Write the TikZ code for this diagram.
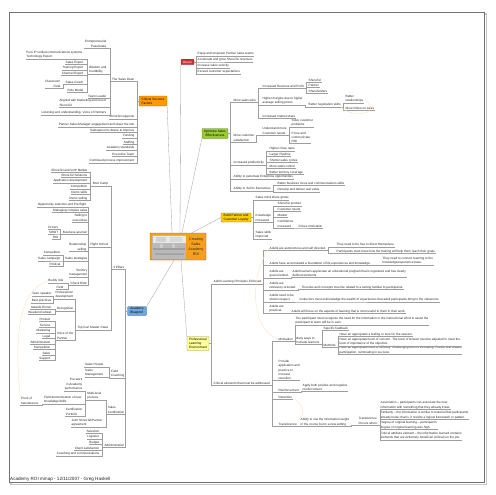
\documentclass[tikz,border=0pt]{standalone}
\usepackage{fontspec}
\setmainfont{Liberation Sans}
\definecolor{csfo}{HTML}{FF9900}
\definecolor{misr}{HTML}{CC3333}
\definecolor{optg}{HTML}{99CC33}
\definecolor{bldy}{HTML}{FFCC00}
\definecolor{abb}{HTML}{6FA8DC}
\definecolor{ply}{HTML}{FFFF99}
\definecolor{rooto}{HTML}{F5A01A}
\tikzset{
 tx/.style={font=\fontsize{3.1}{4.4}\selectfont, inner xsep=0.5pt, inner ysep=0.4pt, text=black!85},
 L/.style={tx, anchor=south east, align=right},
 R/.style={tx, anchor=south west, align=left},
 cn/.style={draw=black!38, line width=0.3pt},
 rel/.style={draw=orange!22, line width=0.45pt},
 br/.style={font=\fontsize{3.2}{3.9}\selectfont, rounded corners=0.8pt, inner sep=0.8pt, align=center, draw=black!45, line width=0.3pt}
}
\begin{document}
\begin{tikzpicture}[x=1pt,y=-1pt]
\useasboundingbox (0,0) rectangle (495,495);
\fill[white] (0,0) rectangle (495,495);
\draw[black!22, line width=1.2pt] (11,14) rectangle (486.5,484.5);
\draw[black!55, line width=0.6pt, fill=white] (9,12) rectangle (484.5,482.5);

% ---------- central node
\node[draw=orange!80!black, fill=rooto, rounded corners=1pt, minimum width=56, minimum height=27, inner sep=0] (root) at (178,246.5) {};
\fill[gray!55] (152,235) rectangle (186,258.5);
\fill[gray!18] (152.5,235.5) rectangle (185.5,243);
\fill[gray!35] (156,237) rectangle (166,242);
\fill[gray!30] (170,237) rectangle (182,242);
\fill[gray!75] (153,248) rectangle (185,250);
\fill[gray!70] (155,253) rectangle (184,255);
\fill[gray!40] (160,244) rectangle (163,248);
\fill[gray!40] (172,244) rectangle (175,248);
\node[font=\fontsize{3.6}{4.9}\selectfont, align=center, inner sep=0, text=black!85] (roottx) at (196,247) {Creating\\Sales\\Academy\\ROI};

% ---------- main branches
\node[br, fill=misr, text=white, draw=misr!70!black, minimum width=13, minimum height=5.5, font=\fontsize{2.8}{3}\selectfont] (ms) at (187.5,62) {Mission};
\node[br, fill=csfo, draw=csfo!70!black, minimum width=28, minimum height=10, align=left] (cs) at (153,101) {Critical Success\\Factors};
\node[br, fill=optg, draw=optg!60!black, minimum width=26, minimum height=10] (os) at (215,133.5) {Optimize Sales\\Effectiveness};
\node[br, fill=bldy, draw=bldy!60!black, minimum width=30, minimum height=9] (bp) at (236,217.5) {Build Partner and\\Customer Loyalty};
\node[br, fill=abb, draw=abb!60!black, minimum width=19, minimum height=9, align=left] (ab) at (137,311) {Academy\\Blueprint};
\node[br, fill=ply, draw=yellow!55!black, minimum width=22, minimum height=14, align=left] (pl) at (198,343.5) {Professional\\Learning\\Environment};

\draw[cn] ([xshift=2]root.north) -- (ms.south west);
\draw[cn] ([xshift=-6]root.north) -- (cs.south east);
\draw[cn] ([xshift=4]root.north) -- (os.south west);
\draw[cn] ([xshift=14]root.north) -- (bp.west);
\draw[cn] ([xshift=-4]root.south) -- (ab.north east);
\draw[cn] ([xshift=3]root.south) -- (pl.north west);

% ---------- Critical Success Factors
\node[L] (dean) at (135,81) {The Sales Dean};
\node[L] (stsup) at (135,119) {ShoreTel supports};
\node[L] (psm) at (135,127) {Partner Sales Manager engagement and share the risk};
\node[L] (desire) at (135,132.5) {Salesperson's desire to improve};
\node[L] (fund) at (135,138) {Funding};
\node[L] (staff) at (135,144.5) {Staffing};
\node[L] (astd) at (135,150) {Academy standards};
\node[L] (exec) at (135,156) {Executive Team};
\node[L] (cpi) at (135,163) {Continued process improvement};
\node[L] (entre) at (107,48) {Entrepreneurial\\Passionate};
\node[L, align=left] (wis) at (107,74) {Wisdom and\\Credibility};
\node[L] (tl) at (107,98) {Team Leader};
\node[L, align=left] (align) at (107,107) {Aligned with Marketing and rest of\\ShoreTel};
\node[L] (listen) at (107,115) {Listening and understanding. Voice of Partners};
\node[L, align=left] (pure) at (83,59) {Pure IP unified communications systems\\Technology Expert};
\node[L] (sexp) at (84,64.5) {Sales Expert};
\node[L] (texp) at (84,70) {Training Expert};
\node[L] (cexp) at (84,75.5) {Channel Expert};
\node[L] (coach) at (84,84.5) {Sales Coach};
\node[L] (role) at (84,92) {Role Model};
\node[L] (cf) at (61,88) {Classroom\\Field};

% ---------- Academy Blueprint
\node[L] (pil) at (125,269) {3 Pillars};
\node[L, align=left] (fc) at (125,378) {Field\\Coaching};
\node[L, align=left] (scert) at (125,414) {Sales\\Certification};
\node[L] (adm) at (125,447) {Administration};
\node[L] (boot) at (109,186) {Boot Camp};
\node[L] (flight) at (109,247) {Flight School};
\node[L] (topgun) at (109,330) {Top Gun Master Class};
\node[L] (b1) at (88,172) {ShoreTel and VoIP Market};
\node[L] (b2) at (88,177.5) {ShoreTel Solutions};
\node[L] (b3) at (88,183) {Application development};
\node[L] (b4) at (88,189) {Competition};
\node[L] (b5) at (88,194.5) {Demo skills};
\node[L] (b6) at (88,200.5) {Demo selling};
\node[L] (f1) at (87,207) {Opportunity selection and Pre-flight};
\node[L] (f2) at (88,212.5) {Managing complex sales};
\node[L] (f3) at (88,222) {Selling to\\executives};
\node[L] (f4) at (88,234) {Business acumen};
\node[L] (f5) at (87,251.5) {Relationship\\selling};
\node[L] (f6) at (88,261) {Sales strategies};
\node[L] (f7) at (88,277) {Territory\\management};
\node[L] (f8) at (88,285.5) {`Check Ride'};
\node[L] (ba1) at (59,229) {Drivers};
\node[L] (ba2) at (59,234) {SWOT};
\node[L] (ba3) at (59,239.5) {ROI};
\node[L] (ss1) at (61,255) {Competition};
\node[L] (ss2) at (61,261) {Sales campaign};
\node[L] (ss3) at (61,266) {Political};
\node[L] (cr1) at (64,283) {Buddy ride};
\node[L] (cr2) at (64,289) {Field};
\node[L, align=left] (pd) at (74,299) {Professional\\development};
\node[L] (rec) at (74,311) {Recognition};
\node[L, align=left] (vop) at (74,340) {Voice of the\\Partner};
\node[L] (g1) at (52,296) {Guru speaker};
\node[L] (g2) at (52,303) {Best practices};
\node[L] (r1) at (52,309) {Awards Dinner};
\node[L] (r2) at (52,314.5) {Weekend retreat};
\node[L] (v1) at (51,321) {Product};
\node[L] (v2) at (51,327) {Service};
\node[L] (v3) at (51,333) {Marketing};
\node[L] (v4) at (51,338.5) {Legal};
\node[L] (v5) at (51,344) {Administration};
\node[L] (v6) at (51,349.5) {Competition};
\node[L] (v7) at (51,355) {Sales};
\node[L] (v8) at (51,360.5) {Support};
\node[L] (sp) at (104,367) {Sales People};
\node[L, align=left] (sm) at (104,377) {Sales\\Management};
\node[L, align=left] (ml) at (102,400) {Multi-level\\process};
\node[L, align=left] (jsp) at (103,427) {Joint ShoreTel/Partner\\agreement};
\node[L] (pw) at (83,391) {Pre-work\\in Academy\\performance};
\node[L, align=left] (fd) at (82,404) {Field demonstration of new\\knowledge/skills};
\node[L, align=left] (cp) at (83,416) {Certification\\Portfolio};
\node[L, align=left] (pot) at (39,405) {Proof of\\transference};
\node[L] (ad1x) at (100,433) {Selection};
\node[L] (ad2x) at (100,439) {Logistics};
\node[L] (ad3x) at (100,444.5) {Budget};
\node[L] (ad4x) at (100,450) {Client satisfaction};
\node[L] (ad5x) at (100,456) {Coaching and communications};

% ---------- Mission
\node[R] (m1) at (197,56) {Equip and empower Partner sales teams};
\node[R] (m2) at (197,62) {Accelerate and grow ShoreTel revenues};
\node[R] (m3) at (197,68) {Increase sales velocity};
\node[R] (m4) at (197,74) {Exceed customer expectations};

% ---------- Optimize Sales Effectiveness
\node[R] (msw) at (233,102) {More sales wins};
\node[R] (mcs) at (233,142) {More customer\\satisfaction};
\node[R] (ip) at (233,165) {Increased productivity};
\node[R] (ape) at (233,179) {Ability to penetrate Enterprise opportunities};
\node[R] (ase) at (233,191) {Ability to Sell to Executives};
\node[R] (irp) at (262,88) {Increased Revenue and Profit};
\node[R] (hm) at (262,105) {Higher margins due to higher\\average selling prices};
\node[R] (ims) at (262,118) {Increased market share};
\node[R] (st) at (308,82) {ShoreTel};
\node[R] (pa) at (308,87.5) {Partner};
\node[R] (sh) at (308,93) {Shareholders};
\node[R] (bns) at (308,107) {Better negotiation skills};
\node[R] (brl) at (345,103) {Better\\relationships};
\node[R] (mfs) at (345,110) {More follow-on sales};
\node[R] (ucn) at (262,135) {Understand more\\Customer needs};
\node[R] (scp) at (291,127) {Solve customer\\problems};
\node[R] (pcr) at (291,143.5) {Prove and\\communicate\\ROI};
\node[R] (hcr) at (269,151) {Higher close rates};
\node[R] (lpp) at (269,156.5) {Larger Pipeline};
\node[R] (ssc) at (269,162.5) {Shorter sales cycles};
\node[R] (msc) at (269,168.5) {More sales control};
\node[R] (btc) at (269,174.5) {Better territory coverage};
\node[R] (bbf) at (277,185.5) {Better business focus and communications skills};
\node[R] (ddv) at (277,192) {Develop and deliver real value};

% ---------- Build Partner and Customer Loyalty
\node[R] (smg) at (255,200) {Sales mind share grows};
\node[R] (ki) at (255,222) {Knowledge\\increased};
\node[R] (ssi) at (255,239) {Sales skills\\improved};
\node[R] (kp) at (277,206) {ShoreTel product};
\node[R] (kc) at (277,211.5) {Customer needs};
\node[R] (km) at (277,217) {Market};
\node[R] (kci) at (277,228) {Confidence\\increased};
\node[R] (dm) at (298,228) {Drives motivation};

% ---------- Professional Learning Environment
\node[R] (alp) at (213,284) {Adult Learning Principles Followed};
\node[R] (cea) at (213,385) {Critical elements that must be addressed};
\node[R] (ad1) at (269,250) {Adults are autonomous and self directed.};
\node[R] (ad2) at (269,265.5) {Adults have accumulated a foundation of life experiences and knowledge.};
\node[R] (ad3) at (269,278) {Adults are\\goal-oriented.};
\node[R] (ad4) at (269,290) {Adults are\\relevancy-oriented.};
\node[R] (ad5) at (269,302) {Adults need to be\\shown respect.};
\node[R] (ad6) at (269,313) {Adults are\\practical.};
\node[R] (ad1a) at (336,247) {They need to be free to direct themselves.};
\node[R] (ad1b) at (336,253.5) {Participants must know how the training will help them reach their goals.};
\node[R] (ad2a) at (382,265) {They need to connect learning to the\\knowledge/experience base.};
\node[R] (ad3a) at (292,277.5) {Adult learners appreciate an educational program that is organized and has clearly\\defined elements.};
\node[R] (ad4a) at (301,289.5) {Theories and concepts must be related to a setting familiar to participants.};
\node[R] (ad5a) at (299,302) {Instructors must acknowledge the wealth of experiences that adult participants bring to the classroom.};
\node[R] (ad6a) at (291,313.5) {Adults will focus on the aspects of learning that is most useful to them in their work.};
\node[R] (mot) at (278,341) {Motivation};
\node[R] (pap) at (278,380.5) {Provide\\application and\\practice to\\increase\\retention};
\node[R] (rf) at (278,392.5) {Reinforcement};
\node[R] (ret) at (278,399.5) {Retention};
\node[R] (tr) at (278,426.5) {Transference};
\node[R] (mt1) at (295,325) {The participant must recognize the need for the information or the instructional effort to assist the\\participant to learn will be in vain.};
\node[R] (mwm) at (295,344.5) {Many ways to\\motivate learners};
\node[R] (sf) at (323,330.5) {Specific feedback};
\node[R] (meth) at (323,347.5) {Methods};
\node[R] (h1) at (339,336.5) {Have an appropriate a feeling or tone for the session.};
\node[R] (h2) at (339,346) {Have an appropriate level of concern. The level of tension must be adjusted to meet the\\level of importance of the objective.};
\node[R] (h3) at (339,354.5) {Have an appropriate level of difficulty. Challenging but not frustrating. Predict and reward\\participation, culminating in success.};
\node[R] (rf1) at (302,391.5) {Apply both positive and negative\\reinforcement};
\node[R] (tr1) at (300,426.5) {Ability to use the information taught\\in the course but in a new setting};
\node[R] (toc) at (358,425) {Transference\\Occurs when:};
\node[R] (t1) at (380,409.5) {Association -- participants can associate the new\\information with something that they already know.};
\node[R] (t2) at (380,419.5) {Similarity -- the information is similar to material that participants\\already know; that is, it revisits a logical framework or pattern.};
\node[R] (t3) at (380,429.5) {Degree of original learning -- participant's\\degree of original learning was high.};
\node[R] (t4) at (380,440) {Critical attribute element -- the information learned contains\\elements that are extremely beneficial (critical) on the job.};

% ---------- connectors
\foreach \p/\c in {cs/dean,cs/stsup,cs/psm,cs/desire,cs/fund,cs/staff,cs/astd,cs/exec,cs/cpi,
  ab/pil,ab/fc,ab/scert,ab/adm}
  \draw[cn] (\p.west) -- ++(-2,0) |- (\c.south west);
\foreach \p/\c in {dean/entre,dean/wis,dean/tl,dean/align,dean/listen,
  wis/pure,wis/sexp,wis/texp,wis/cexp,wis/coach,wis/role,coach/cf,
  pil/boot,pil/flight,pil/topgun,
  boot/b1,boot/b2,boot/b3,boot/b4,boot/b5,boot/b6,
  flight/f1,flight/f2,flight/f3,flight/f4,flight/f5,flight/f6,flight/f7,flight/f8,
  f4/ba1,f4/ba2,f4/ba3,f6/ss1,f6/ss2,f6/ss3,f8/cr1,f8/cr2,
  topgun/pd,topgun/rec,topgun/vop,pd/g1,pd/g2,rec/r1,rec/r2,
  vop/v1,vop/v2,vop/v3,vop/v4,vop/v5,vop/v6,vop/v7,vop/v8,
  fc/sp,fc/sm,scert/ml,scert/jsp,ml/pw,ml/fd,ml/cp,fd/pot,
  adm/ad1x,adm/ad2x,adm/ad3x,adm/ad4x,adm/ad5x}
  \draw[cn] (\p.south west) -- ++(-1.5,0) |- (\c.south west);
\foreach \p/\c in {ms/m1,ms/m2,ms/m3,ms/m4,
  os/msw,os/mcs,os/ip,os/ape,os/ase,
  bp/smg,bp/ki,bp/ssi,pl/alp,pl/cea}
  \draw[cn] (\p.east) -- ++(2,0) |- (\c.south east);
\foreach \p/\c in {msw/irp,msw/hm,msw/ims,irp/st,irp/pa,irp/sh,hm/bns,bns/brl,bns/mfs,
  mcs/ucn,ucn/scp,ucn/pcr,ip/hcr,ip/lpp,ip/ssc,ip/msc,ip/btc,ase/bbf,ase/ddv,
  ki/kp,ki/kc,ki/km,ki/kci,kci/dm,
  alp/ad1,alp/ad2,alp/ad3,alp/ad4,alp/ad5,alp/ad6,
  ad1/ad1a,ad1/ad1b,ad2/ad2a,ad3/ad3a,ad4/ad4a,ad5/ad5a,ad6/ad6a,
  cea/mot,cea/pap,cea/rf,cea/ret,cea/tr,
  mot/mt1,mot/mwm,mwm/sf,mwm/meth,meth/h1,meth/h2,meth/h3,
  rf/rf1,tr/tr1,tr1/toc,toc/t1,toc/t2,toc/t3,toc/t4}
  \draw[cn] (\p.south east) -- ++(1.5,0) |- (\c.south east);

% ---------- relationship curves
\draw[rel] (pot.north west) .. controls (14,340) and (18,290) .. (cr1.west);
\draw[rel] (bns.south east) .. controls (350,118) and (385,115) .. (brl.east);
\draw[rel] (ad1.west) .. controls (248,280) and (252,330) .. (mot.west);
\draw[rel] (ret.east) .. controls (305,405) and (304,415) .. (tr1.north west);

% ---------- footer
\node[font=\fontsize{4.6}{5}\selectfont, anchor=south west, inner sep=0, text=black!85] (foot) at (10,481.5) {Academy ROI mmap - 12/11/2007 - Greg Haskell};
\end{tikzpicture}
\end{document}
